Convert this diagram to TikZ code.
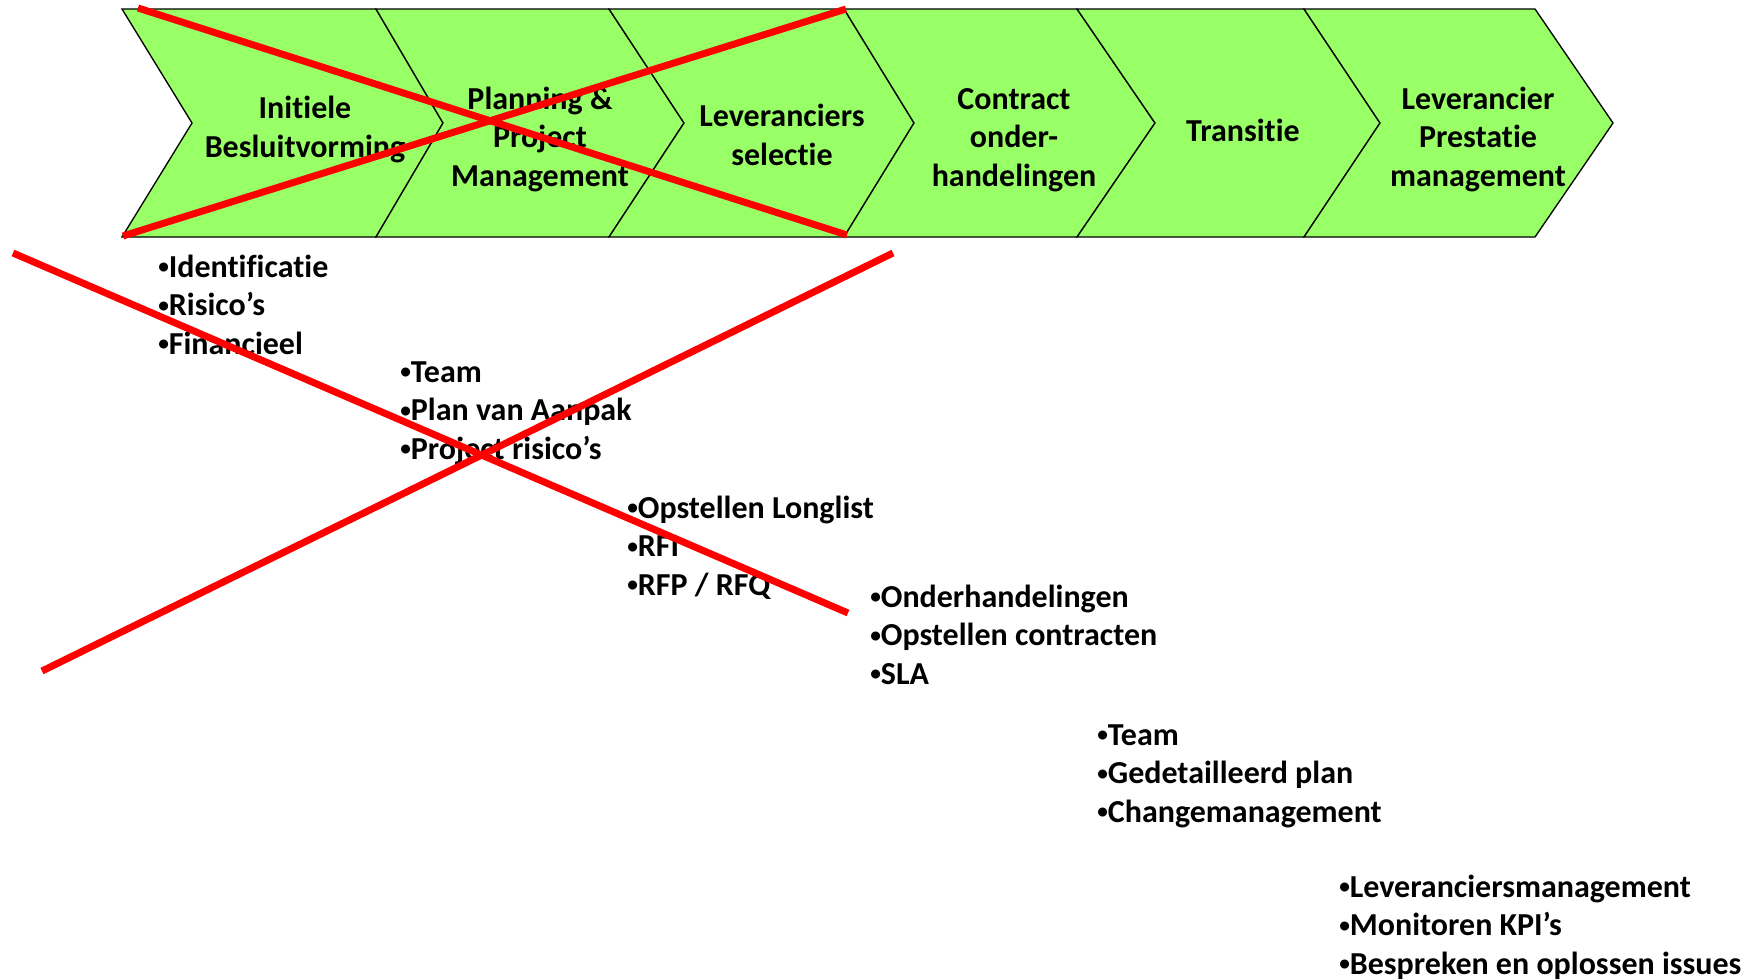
\documentclass[tikz,border=0pt]{standalone}
\usepackage{fontspec}
\setmainfont{Carlito}[Ligatures={TeX,NoCommon}]
\definecolor{chevgreen}{RGB}{153,255,102}
\newcommand{\itembullet}{\raisebox{2.5pt}{\fontsize{16}{16}\selectfont\textbullet}}
\tikzset{
  chevron/.style={draw=black, fill=chevgreen, line width=1pt, line join=miter},
  stage/.style={anchor=base, align=center, inner sep=0pt, font=\bfseries\fontsize{24}{28.8}\selectfont},
  items/.style={anchor=base west, align=left, inner sep=0pt, font=\bfseries\fontsize{24}{28.8}\selectfont},
  cross/.style={draw=red, line width=5.25pt}
}
\begin{document}
\begin{tikzpicture}[x=0.75pt,y=0.75pt,yscale=-1,xscale=1]
\useasboundingbox (0,0) rectangle (1745,979);

%Shape: Chevrons
\draw [chevron] (122,9) -- (376,9) -- (443,123) -- (376,237) -- (122,237) -- (192,123) -- cycle ;
\draw [chevron] (376,9) -- (609,9) -- (684,123) -- (609,237) -- (376,237) -- (443,123) -- cycle ;
\draw [chevron] (609,9) -- (844,9) -- (914,123) -- (844,237) -- (609,237) -- (684,123) -- cycle ;
\draw [chevron] (844,9) -- (1077,9) -- (1155,123) -- (1077,237) -- (844,237) -- (914,123) -- cycle ;
\draw [chevron] (1077,9) -- (1304,9) -- (1380,123) -- (1304,237) -- (1077,237) -- (1155,123) -- cycle ;
\draw [chevron] (1304,9) -- (1535,9) -- (1613,123) -- (1535,237) -- (1304,237) -- (1380,123) -- cycle ;

% Text Node (placed at the baseline of the last line)
\node [stage] (initiele) at (305,157) {Initiele\\Besluitvorming};
\node [stage] (planning) at (540,186) {Planning \&\\Project\\Management};
\node [stage] (selectie) at (782,165) {Leveranciers\\selectie};
\node [stage] (contract) at (1014,186) {Contract\\onder-\\handelingen};
\node [stage] (transitie) at (1243,141) {Transitie};
\node [stage] (prestatie) at (1478,186) {Leverancier\\Prestatie\\management};

% Text Node
\node [items] (besluitlist) at (158,354) {\itembullet Identificatie\\\itembullet Risico’s\\\itembullet Financieel};
\node [items] (planlist) at (400,459) {\itembullet Team\\\itembullet Plan van Aanpak\\\itembullet Project risico’s};
\node [items] (selectielist) at (627,595) {\itembullet Opstellen Longlist\\\itembullet RFI\\\itembullet RFP / RFQ};
\node [items] (contractlist) at (870,684) {\itembullet Onderhandelingen\\\itembullet Opstellen contracten\\\itembullet SLA};
\node [items] (transitielist) at (1097,822) {\itembullet Team\\\itembullet Gedetailleerd plan\\\itembullet Changemanagement};
\node [items] (prestatielist) at (1339,974) {\itembullet Leveranciersmanagement\\\itembullet Monitoren KPI’s\\\itembullet Bespreken en oplossen issues};

%Straight Lines
\coordinate (xa1) at (138,8);
\coordinate (xa2) at (847,235);
\coordinate (xb1) at (123,236);
\coordinate (xb2) at (846,9);
\coordinate (xc1) at (13,253);
\coordinate (xc2) at (848,613);
\coordinate (xd1) at (42,671);
\coordinate (xd2) at (893,253);
\draw [cross] (xa1) -- (xa2) ;
\draw [cross] (xb1) -- (xb2) ;
\draw [cross] (xc1) -- (xc2) ;
\draw [cross] (xd1) -- (xd2) ;

\end{tikzpicture}
\end{document}
